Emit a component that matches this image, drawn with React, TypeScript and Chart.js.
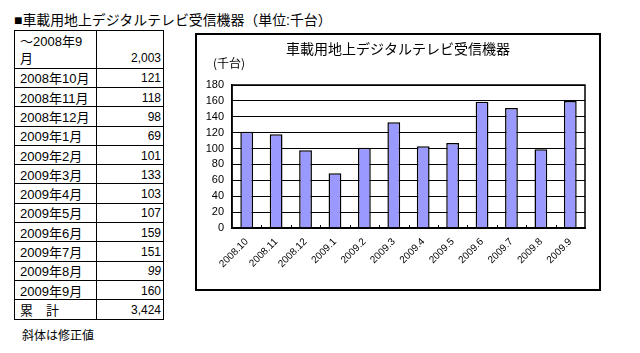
import React, { useEffect, useRef } from "react";
import { Chart, registerables } from "chart.js";

Chart.register(...registerables);

const pageTitle = "■車載用地上デジタルテレビ受信機器（単位:千台）";
const chartTitle = "車載用地上デジタルテレビ受信機器";
const unitLabel = "(千台)";
const footNote = "斜体は修正値";

const firstRowLabel = ["～2008年9", "月"];
const firstRowValue = "2,003";
const tableLabels = [
  "2008年10月", "2008年11月", "2008年12月", "2009年1月", "2009年2月", "2009年3月",
  "2009年4月", "2009年5月", "2009年6月", "2009年7月", "2009年8月", "2009年9月",
];
const italicRows = [10];
const totalLabel = "累　計";
const totalValue = "3,424";

const chartLabels = [
  "2008.10", "2008.11", "2008.12", "2009.1", "2009.2", "2009.3",
  "2009.4", "2009.5", "2009.6", "2009.7", "2009.8", "2009.9",
];
const monthlyValues = [121, 118, 98, 69, 101, 133, 103, 107, 159, 151, 99, 160];

const yMin = 0;
const yMax = 180;
const yStep = 20;

const FONT = '"Liberation Sans", "Noto Sans CJK JP", sans-serif';

const framePlugin = {
  id: "frameAndTexts",
  afterDraw(chart: any) {
    const { ctx, chartArea: a, scales } = chart;
    ctx.save();
    ctx.strokeStyle = "#000";
    ctx.lineWidth = 1.5;
    ctx.strokeRect(a.left, a.top, a.right - a.left, a.bottom - a.top);
    ctx.lineWidth = 1;
    const xs = scales.x;
    for (let i = 1; i < chartLabels.length; i++) {
      const px = Math.round((xs.getPixelForValue(i - 1) + xs.getPixelForValue(i)) / 2) + 0.5;
      ctx.beginPath();
      ctx.moveTo(px, a.bottom - 3);
      ctx.lineTo(px, a.bottom);
      ctx.stroke();
    }
    ctx.fillStyle = "#000";
    ctx.textBaseline = "middle";
    ctx.textAlign = "center";
    ctx.font = '14px "Noto Sans CJK JP"';
    ctx.fillText(chartTitle, chart.width / 2, 14);
    ctx.textAlign = "left";
    ctx.font = '12px "Noto Sans CJK JP"';
    ctx.fillText(unitLabel, 16, 28);
    ctx.restore();
  },
};

function BarChart() {
  const ref = useRef<HTMLCanvasElement | null>(null);
  useEffect(() => {
    if (!ref.current) return;
    const chart = new Chart(ref.current, {
      type: "bar",
      data: {
        labels: chartLabels,
        datasets: [
          {
            data: monthlyValues,
            backgroundColor: "#9999FF",
            borderColor: "#000",
            borderWidth: 1.5,
            barPercentage: 0.435,
            categoryPercentage: 1,
          },
        ],
      },
      options: {
        responsive: false,
        animation: false,
        layout: { padding: { top: 50, right: 14, left: 0, bottom: 0 } },
        plugins: {
          legend: { display: false },
          tooltip: { enabled: false },
          title: { display: false },
        },
        scales: {
          x: {
            grid: { drawOnChartArea: false, drawTicks: false },
            border: { display: true, color: "#000", width: 1.5 },
            ticks: {
              color: "#000",
              font: { family: FONT, size: 10 },
              maxRotation: 45,
              minRotation: 45,
              autoSkip: false,
              padding: 8,
            },
            afterFit: (s: any) => {
              s.height = 61;
            },
          },
          y: {
            min: yMin,
            max: yMax,
            grid: { color: "#000", lineWidth: 1, drawTicks: false },
            border: { display: true, color: "#000", width: 1.5 },
            ticks: {
              stepSize: yStep,
              autoSkip: false,
              color: "#000",
              font: { family: FONT, size: 11 },
              padding: 8,
            },
            afterFit: (s: any) => {
              s.width = 35;
            },
          },
        },
      },
      plugins: [framePlugin],
    });
    return () => chart.destroy();
  }, []);
  return <canvas ref={ref} width={402} height={254} style={{ display: "block" }} />;
}

export default function App() {
  const rowH = 19.3;
  const cell: React.CSSProperties = {
    border: "1px solid #000",
    padding: "2px 2px 0 5px",
    fontSize: 13,
    lineHeight: "15px",
    whiteSpace: "nowrap",
    overflow: "hidden",
    boxSizing: "border-box",
    verticalAlign: "middle",
  };
  const numCell: React.CSSProperties = {
    ...cell,
    textAlign: "right",
    padding: "2px 2px 0 0",
    fontSize: 12,
  };
  return (
    <div
      style={{
        position: "absolute",
        left: 0,
        top: 0,
        width: 640,
        height: 353,
        background: "#fff",
        fontFamily: FONT,
        color: "#000",
      }}
    >
      <div style={{ position: "absolute", left: 14, top: 12, fontSize: 13.9, lineHeight: "16px", whiteSpace: "nowrap" }}>
        {pageTitle}
      </div>
      <table
        style={{
          position: "absolute",
          left: 14,
          top: 30,
          borderCollapse: "collapse",
          tableLayout: "fixed",
          width: 149,
        }}
      >
        <colgroup>
          <col style={{ width: 82 }} />
          <col style={{ width: 67 }} />
        </colgroup>
        <tbody>
          <tr style={{ height: 37.7 }}>
            <td style={{ ...cell, height: 37.7, lineHeight: "17px" }}>
              {firstRowLabel[0]}
              <br />
              {firstRowLabel[1]}
            </td>
            <td style={{ ...numCell, height: 37.7, verticalAlign: "bottom", paddingBottom: 2 }}>{firstRowValue}</td>
          </tr>
          {tableLabels.map((lab, i) => (
            <tr key={lab} style={{ height: rowH }}>
              <td style={{ ...cell, height: rowH }}>{lab}</td>
              <td style={{ ...numCell, height: rowH }}>
                {italicRows.includes(i) ? <i>{monthlyValues[i]}</i> : monthlyValues[i]}
              </td>
            </tr>
          ))}
          <tr style={{ height: rowH }}>
            <td style={{ ...cell, height: rowH }}>{totalLabel}</td>
            <td style={{ ...numCell, height: rowH }}>{totalValue}</td>
          </tr>
        </tbody>
      </table>
      <div style={{ position: "absolute", left: 22, top: 329, fontSize: 12, lineHeight: "15px", whiteSpace: "nowrap" }}>
        {footNote}
      </div>
      <div
        style={{
          position: "absolute",
          left: 195,
          top: 33,
          width: 406,
          height: 258,
          border: "2px solid #000",
          boxSizing: "border-box",
          background: "#fff",
        }}
      >
        <BarChart />
      </div>
    </div>
  );
}
